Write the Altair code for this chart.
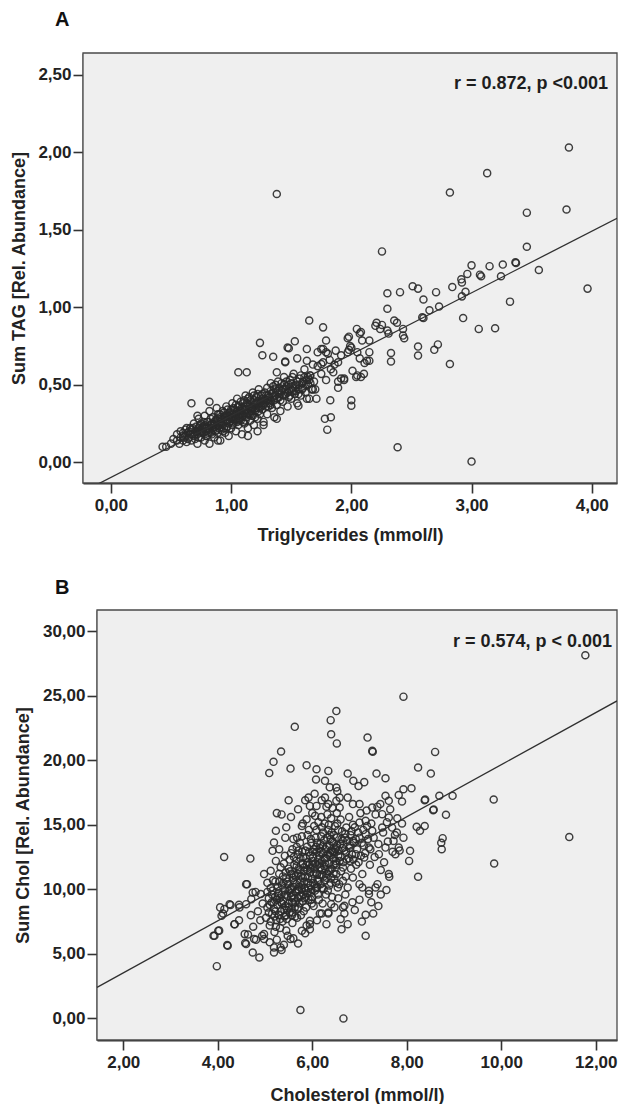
import altair as alt
import pandas as pd

FONT = "Liberation Sans"

# ---------------- Panel A : Triglycerides vs Sum TAG ----------------
tag_cluster = [
    (0.43,0.10),(0.46,0.10),(0.50,0.12),(0.52,0.15),(0.55,0.14),(0.55,0.18),(0.57,0.12),(0.58,0.16),(0.60,0.19),(0.60,0.14),
    (0.62,0.17),(0.62,0.21),(0.63,0.13),(0.64,0.19),(0.65,0.16),(0.66,0.22),(0.67,0.14),(0.68,0.18),(0.69,0.25),(0.70,0.20),
    (0.70,0.15),(0.71,0.23),(0.72,0.12),(0.72,0.18),(0.73,0.28),(0.74,0.21),(0.75,0.16),(0.75,0.25),(0.76,0.19),(0.77,0.23),
    (0.78,0.14),(0.78,0.30),(0.79,0.20),(0.80,0.26),(0.80,0.17),(0.81,0.22),(0.82,0.33),(0.82,0.12),(0.83,0.19),(0.84,0.25),
    (0.85,0.29),(0.85,0.21),(0.86,0.16),(0.87,0.23),(0.88,0.27),(0.88,0.35),(0.89,0.19),(0.90,0.31),(0.90,0.24),(0.91,0.14),
    (0.92,0.21),(0.92,0.28),(0.93,0.33),(0.94,0.25),(0.95,0.19),(0.95,0.30),(0.96,0.36),(0.97,0.23),(0.97,0.27),(0.98,0.17),
    (0.99,0.32),(1.00,0.28),(1.00,0.22),(1.01,0.38),(1.02,0.25),(1.02,0.31),(1.03,0.34),(1.04,0.20),(1.04,0.28),(1.05,0.41),
    (1.06,0.30),(1.06,0.24),(1.07,0.36),(1.08,0.27),(1.08,0.33),(1.09,0.18),(1.10,0.30),(1.10,0.38),(1.11,0.25),(1.12,0.34),
    (1.12,0.43),(1.13,0.29),(1.14,0.37),(1.14,0.22),(1.15,0.32),(1.16,0.40),(1.16,0.27),(1.17,0.35),(1.18,0.45),(1.18,0.30),
    (1.19,0.24),(1.20,0.38),(1.20,0.33),(1.21,0.42),(1.22,0.28),(1.23,0.36),(1.23,0.47),(1.24,0.31),(1.25,0.39),(1.26,0.34),
    (1.26,0.44),(1.27,0.26),(1.28,0.41),(1.29,0.36),(1.30,0.48),(1.30,0.31),(1.31,0.43),(1.32,0.38),(1.33,0.51),(1.34,0.35),
    (1.35,0.45),(1.36,0.40),(1.36,0.29),(1.37,0.47),(1.38,0.37),(1.39,0.52),(1.40,0.42),(1.41,0.33),(1.42,0.46),(1.43,0.39),
    (1.44,0.55),(1.45,0.44),(1.46,0.49),(1.47,0.36),(1.48,0.46),(1.49,0.53),(1.50,0.41),(1.51,0.48),(1.52,0.57),(1.53,0.44),
    (1.54,0.50),(1.55,0.38),(1.56,0.47),(1.57,0.54),(1.58,0.43),(1.59,0.51),(1.60,0.48),(1.61,0.60),(1.62,0.45),(1.63,0.53),
    (1.64,0.50),(1.65,0.41),(1.66,0.56),(1.67,0.47),(1.68,0.63),(1.69,0.52),
]
tag_core = [
    (0.65,0.20),(0.68,0.22),(0.72,0.20),(0.74,0.24),(0.77,0.19),(0.80,0.22),(0.83,0.24),(0.86,0.26),(0.89,0.28),(0.91,0.26),
    (0.94,0.29),(0.96,0.27),(0.98,0.30),(1.01,0.29),(1.03,0.27),(1.05,0.33),(1.07,0.31),(1.09,0.35),(1.11,0.32),(1.13,0.34),
    (1.15,0.36),(1.17,0.33),(1.19,0.37),(1.21,0.35),(1.24,0.38),(1.27,0.40),(1.29,0.39),(1.32,0.42),(1.34,0.44),(1.37,0.43),
    (1.40,0.45),(1.43,0.47),(1.47,0.45),(1.50,0.47),(1.53,0.49),(1.57,0.50),(1.60,0.52),
    (0.58,0.20),(0.61,0.16),(0.63,0.22),(0.66,0.18),(0.69,0.17),(0.71,0.20),(0.73,0.16),(0.74,0.19),(0.76,0.22),(0.78,0.24),
    (0.79,0.17),(0.81,0.26),(0.82,0.21),(0.84,0.18),(0.85,0.24),(0.87,0.27),(0.87,0.20),(0.89,0.31),(0.90,0.22),(0.91,0.29),
    (0.93,0.24),(0.93,0.20),(0.94,0.32),(0.96,0.22),(0.97,0.31),(0.99,0.26),(1.00,0.34),(1.01,0.24),(1.02,0.35),(1.03,0.30),
    (1.05,0.26),(1.06,0.36),(1.07,0.28),(1.08,0.39),(1.09,0.29),(1.10,0.34),(1.11,0.40),(1.12,0.27),(1.13,0.38),(1.14,0.32),
    (1.15,0.42),(1.16,0.31),(1.17,0.39),(1.18,0.35),(1.19,0.43),(1.20,0.29),(1.21,0.38),(1.22,0.44),(1.23,0.33),(1.25,0.36),
    (1.25,0.43),(1.27,0.37),(1.28,0.45),(1.30,0.40),(1.31,0.36),(1.33,0.46),(1.33,0.40),(1.35,0.42),(1.37,0.50),(1.38,0.41),
    (1.40,0.48),(1.41,0.44),(1.42,0.51),(1.44,0.43),(1.46,0.52),(1.48,0.50),(1.49,0.43),(1.51,0.55),(1.52,0.46),(1.55,0.52),
    (1.56,0.44),(1.58,0.56),(1.62,0.50),(1.64,0.55),(1.66,0.51),
]
tag_band = [
    (0.60,0.17),(0.64,0.15),(0.67,0.21),(0.70,0.18),(0.73,0.22),(0.75,0.20),(0.77,0.26),(0.79,0.23),(0.81,0.19),(0.83,0.28),
    (0.84,0.22),(0.86,0.24),(0.88,0.21),(0.89,0.25),(0.91,0.31),(0.92,0.25),(0.94,0.22),(0.95,0.27),(0.97,0.34),(0.98,0.25),
    (0.99,0.29),(1.01,0.32),(1.02,0.28),(1.04,0.31),(1.04,0.37),(1.06,0.27),(1.07,0.33),(1.09,0.31),(1.10,0.26),(1.11,0.36),
    (1.13,0.31),(1.14,0.41),(1.16,0.35),(1.17,0.30),(1.19,0.40),(1.20,0.35),(1.22,0.39),(1.24,0.35),(1.26,0.41),(1.28,0.38),
    (1.29,0.43),(1.31,0.40),(1.33,0.37),(1.35,0.49),(1.36,0.43),(1.39,0.46),(1.41,0.40),(1.44,0.50),(1.45,0.47),(1.48,0.42),
    (1.50,0.51),(1.54,0.46),(1.59,0.47),(1.61,0.55),(1.65,0.53),
]
tag_middle = [
    (0.67,0.38),(0.82,0.39),(0.72,0.30),(0.89,0.14),(1.06,0.58),(1.13,0.58),(1.14,0.17),(1.22,0.20),(1.27,0.24),(1.24,0.77),
    (1.26,0.69),(1.35,0.68),(1.38,0.58),(1.45,0.65),(1.47,0.74),(1.38,0.28),(1.78,0.28),(1.83,0.29),(1.80,0.21),(1.825,0.40),
    (2.00,0.40),(2.00,0.365),(1.53,0.78),(1.48,0.735),(1.63,0.73),(1.45,0.645),(1.55,0.67),(1.63,0.655),(1.72,0.71),(1.75,0.634),
    (1.87,0.72),(1.98,0.81),(1.99,0.75),(1.98,0.725),(2.07,0.83),(2.09,0.785),(2.15,0.71),(2.13,0.655),(2.07,0.67),(2.105,0.57),
    (2.08,0.55),(2.01,0.59),(1.915,0.54),(1.85,0.58),(1.79,0.53),(1.71,0.41),(1.63,0.41),(1.56,0.365),(1.68,0.47),(1.89,0.48),
    (1.94,0.53),(2.04,0.55),(2.11,0.64),(1.65,0.914),(1.765,0.87),(1.79,0.785),(1.79,0.71),(1.765,0.73),(1.75,0.73),(1.805,0.70),
    (1.765,0.645),(1.82,0.66),(1.83,0.60),(1.89,0.645),(1.915,0.69),(1.94,0.54),(1.70,0.47),(1.655,0.56),(2.046,0.86),(2.08,0.84),
    (2.15,0.785),(2.15,0.655),(2.05,0.71),(1.97,0.71),(2.00,0.74),(1.97,0.80),(2.05,0.56),(1.89,0.52),(1.75,0.57),(1.72,0.62),
    (1.86,0.63),
]
tag_upper = [
    (2.20,0.88),(2.21,0.90),(2.24,0.86),(2.255,0.886),(2.30,0.85),(2.31,0.83),(2.357,0.914),(2.38,0.90),(2.43,0.86),(2.44,0.80),
    (2.43,0.817),(2.30,1.09),(2.405,1.097),(2.51,1.135),(2.555,1.12),(2.60,1.05),(2.705,1.097),(2.30,0.99),(2.84,1.13),(2.92,1.16),
    (2.59,0.935),(2.65,0.98),(2.73,1.004),(2.60,0.93),(2.93,0.93),(3.06,0.86),(3.196,0.864),(3.32,1.036),(3.965,1.12),(2.555,0.746),
    (2.555,0.688),(2.69,0.725),(2.72,0.76),(2.33,0.705),(2.33,0.65),(2.82,0.634),(3.00,1.27),(2.965,1.215),(2.915,1.18),(2.95,1.10),
    (2.92,1.07),(3.07,1.21),(3.08,1.20),(3.15,1.265),(3.26,1.275),(3.365,1.29),(3.37,1.285),(3.245,1.20),(3.56,1.24),(3.46,1.39),
    (3.46,1.61),(3.79,1.63),(3.81,2.03),(3.13,1.865),(2.82,1.74),(1.38,1.73),(2.255,1.36),(2.385,0.097),(3.00,0.004),
]

# ---------------- Panel B : Cholesterol vs Sum Chol ----------------
chol_core = [
    (5.02,7.8),(5.05,8.6),(5.08,9.3),(5.10,7.2),(5.12,10.1),(5.15,8.1),(5.18,9.0),(5.20,6.7),(5.22,10.6),(5.24,7.6),
    (5.26,8.8),(5.28,9.7),(5.30,11.2),(5.32,7.0),(5.34,8.3),(5.36,10.3),(5.38,9.1),(5.40,12.0),(5.41,7.9),(5.43,8.7),
    (5.45,10.9),(5.47,9.5),(5.48,6.4),(5.50,11.6),(5.52,8.2),(5.53,10.0),(5.55,12.8),(5.57,9.0),(5.58,7.4),(5.60,10.7),
    (5.62,11.9),(5.63,8.6),(5.65,9.8),(5.67,13.3),(5.68,7.8),(5.70,11.2),(5.72,10.2),(5.73,8.9),(5.75,12.4),(5.77,9.5),
    (5.78,14.1),(5.80,10.9),(5.82,8.3),(5.83,11.7),(5.85,13.0),(5.87,9.9),(5.88,7.2),(5.90,12.1),(5.92,10.5),(5.93,14.6),
    (5.95,11.3),(5.97,9.2),(5.98,13.6),(6.00,10.8),(6.02,12.5),(6.03,8.7),(6.05,11.6),(6.07,14.0),(6.08,10.1),(6.10,12.9),
    (6.12,9.6),(6.13,15.2),(6.15,11.1),(6.17,13.5),(6.18,10.4),(6.20,12.2),(6.22,8.9),(6.23,14.4),(6.25,11.8),(6.27,10.7),
    (6.28,13.1),(6.30,12.4),(6.32,15.8),(6.33,9.9),(6.35,11.4),(6.37,14.2),(6.38,12.8),(6.40,10.9),(6.42,13.7),(6.43,16.3),
    (6.45,11.9),(6.47,12.9),(6.48,14.9),(6.50,10.5),(6.52,13.4),
    (5.25,9.2),(5.35,9.6),(5.45,8.0),(5.55,9.4),(5.60,10.2),(5.65,11.0),(5.70,9.3),(5.75,10.6),(5.80,12.0),(5.85,11.0),
    (5.90,9.7),(5.95,12.6),(6.00,11.9),(6.05,10.4),(6.10,11.2),(6.15,12.6),(6.20,11.5),(6.25,13.8),(6.30,10.9),(6.35,12.0),
    (6.40,13.0),(6.45,11.2),(6.50,12.2),(5.50,9.9),(5.60,8.9),(5.70,12.7),(5.80,9.1),(5.90,11.5),(6.00,9.4),(6.10,13.6),
    (6.20,14.8),(6.30,16.4),(6.40,15.5),(5.15,9.6),(5.05,10.5),(4.95,8.9),(4.90,7.6),(4.85,8.3),(4.80,9.8),(4.75,7.1),
    (4.70,8.0),
]
chol_dense = [
    (5.05,9.8),(5.08,8.2),(5.12,7.5),(5.14,9.0),(5.17,10.7),(5.19,8.5),(5.21,9.4),(5.23,7.1),(5.27,10.2),(5.29,8.0),
    (5.31,9.3),(5.33,11.7),(5.36,8.9),(5.37,7.5),(5.39,10.5),(5.42,9.9),(5.44,11.3),(5.46,7.7),(5.49,10.4),(5.51,8.6),
    (5.52,12.3),(5.54,9.7),(5.56,11.2),(5.58,8.2),(5.59,10.9),(5.61,12.5),(5.62,9.3),(5.64,7.9),(5.66,10.4),(5.67,11.8),
    (5.69,8.5),(5.71,13.0),(5.72,9.9),(5.74,11.5),(5.76,8.0),(5.77,10.3),(5.79,12.9),(5.81,9.6),(5.82,11.4),(5.84,10.1),
    (5.86,12.4),(5.87,8.6),(5.89,13.3),(5.91,10.9),(5.92,9.2),(5.94,11.9),(5.96,10.3),(5.97,13.9),(5.99,8.9),(6.01,12.2),
    (6.02,10.5),(6.04,13.1),(6.06,9.9),(6.07,11.3),(6.09,14.6),(6.11,10.7),(6.12,12.3),(6.14,9.2),(6.16,13.2),(6.17,11.7),
    (6.19,14.1),(6.21,10.1),(6.22,12.8),(6.24,11.0),(6.26,15.1),(6.27,12.0),(6.29,9.6),(6.31,13.3),(6.32,11.2),(6.34,14.6),
    (6.36,10.3),(6.37,12.6),(6.39,13.9),(6.41,11.6),(6.42,9.4),(6.44,12.4),(6.46,14.2),(6.47,10.8),(6.49,13.1),(6.51,11.9),
    (6.53,15.1),(6.55,12.6),(6.57,10.4),(6.59,13.5),(6.61,11.4),(6.63,14.5),(6.66,12.1),(6.68,13.0),(6.71,11.0),(6.74,13.8),
    (6.77,12.4),(6.81,14.2),(6.84,12.7),(6.88,13.6),(6.93,11.9),(6.97,14.4),(7.03,12.6),(7.09,13.4),(7.16,14.9),(7.23,13.1),
]
chol_heart = [
    (5.10,8.8),(5.16,9.9),(5.22,8.3),(5.27,9.5),(5.30,10.6),(5.34,9.0),(5.38,11.0),(5.41,8.4),(5.44,9.6),(5.47,10.6),
    (5.50,8.9),(5.53,11.4),(5.56,10.1),(5.58,9.5),(5.61,11.1),(5.64,9.0),(5.66,12.2),(5.69,10.0),(5.71,11.6),(5.73,9.5),
    (5.76,11.0),(5.78,10.0),(5.81,12.5),(5.83,10.6),(5.86,9.4),(5.88,11.9),(5.91,10.1),(5.93,12.9),(5.96,11.6),(5.98,10.0),
    (6.01,12.9),(6.03,11.2),(6.06,12.0),(6.08,13.3),(6.11,11.9),(6.13,10.6),(6.16,12.0),(6.18,12.9),(6.21,11.1),(6.23,13.4),
    (6.26,12.4),(6.28,11.6),(6.31,14.0),(6.33,12.7),(6.36,13.4),(6.38,11.5),(6.41,14.4),(6.44,12.9),(6.46,13.6),(6.49,12.0),
    (6.52,14.0),(6.56,13.0),(6.60,12.5),(6.64,13.2),(6.69,14.0),(6.73,12.3),(6.79,13.2),(6.83,14.5),(6.87,12.3),(6.92,13.9),
    (5.20,7.9),(5.32,7.7),(5.46,8.4),(5.57,8.0),(5.71,8.6),(5.84,9.3),(5.97,9.8),(6.10,10.2),(6.24,10.0),(6.39,10.5),
    (5.42,12.6),(5.58,13.1),(5.74,13.6),(5.90,14.2),(6.04,14.9),(6.19,15.6),(6.35,15.0),(6.52,15.9),
]
chol_right = [
    (6.55,14.6),(6.60,15.4),(6.62,13.9),(6.70,14.3),(6.72,12.9),(6.78,15.6),(6.80,13.4),(6.82,11.6),(6.90,14.8),(6.95,13.1),
    (6.98,12.1),(7.02,15.9),(7.05,13.6),(7.08,14.6),(7.12,12.8),(7.15,16.1),(7.18,13.9),(7.22,11.9),(7.25,15.1),(7.30,14.0),
    (7.32,12.5),(7.38,16.4),(7.40,13.5),(7.45,11.5),(7.50,14.4),(7.52,12.1),(7.58,15.2),(7.60,13.7),(7.65,16.2),(7.70,12.9),
    (7.75,14.2),(7.80,15.5),(7.85,13.0),(7.90,16.8),
    (6.51,17.88),(6.58,17.1),(6.75,17.1),(6.86,16.6),(7.00,16.6),(6.58,16.33),(7.13,15.3),(7.00,15.17),(6.86,15.0),(6.72,14.78),
    (7.48,15.82),(7.62,15.56),(7.69,14.78),(7.48,14.78),(7.27,14.53),(7.13,14.27),(7.00,14.0),(6.86,13.75),(6.65,13.75),(6.51,13.23),
    (7.72,13.75),(7.83,13.23),(7.76,12.72),(7.55,13.23),(7.41,12.72),(7.20,13.23),(7.10,12.46),(6.92,12.72),(6.79,12.2),(6.58,12.2),
    (6.65,11.69),(7.06,11.18),(6.86,10.91),(6.65,10.66),(6.51,11.18),(6.54,10.14),(6.75,10.14),(7.00,10.4),(7.20,9.63),(7.34,10.14),
    (6.68,8.72),(6.68,8.13),(6.47,8.6),
    (6.55,9.3),(6.60,7.7),(6.70,9.6),(6.75,7.3),(6.85,9.0),(6.90,8.4),(7.00,9.2),(7.05,7.5),(7.25,9.0),(7.40,8.7),
    (7.45,9.6),(6.62,6.9),
]
chol_left = [
    (5.10,5.9),(5.25,6.1),(5.40,5.7),(5.45,6.8),(5.60,6.2),(5.70,5.8),(5.85,6.6),(5.95,6.9),(6.10,7.6),(6.30,7.3),
    (5.35,5.3),(5.30,13.1),(5.45,14.8),(5.55,15.6),(5.60,13.9),(5.70,16.2),(5.80,15.1),(5.85,16.9),(6.00,15.9),(6.05,17.4),
    (6.20,16.9),(5.50,16.9),(5.25,15.9),
    (4.60,10.4),(4.74,9.75),(4.60,8.85),(4.46,8.6),(4.36,7.3),(4.05,8.6),(4.11,8.13),(4.25,8.85),(4.01,6.79),(3.91,6.4),
    (4.21,5.63),(4.57,6.53),(4.60,5.76),(4.77,6.15),(4.74,5.11),(4.88,4.72),(4.98,6.53),(4.98,6.15),(5.19,5.5),(5.19,5.11),
    (5.33,5.5),(5.54,6.15),(5.78,6.79),(5.95,7.3),(6.16,8.13),(6.34,8.13),(4.98,11.18),(5.12,11.43),(5.23,12.2),(5.16,12.98),
    (5.19,13.62),(5.43,14.0),(5.23,14.53),(5.68,14.0),(5.78,14.9),(5.88,15.43),(5.92,17.1),(6.06,15.69),(6.27,17.1),(6.34,16.6),
    (6.51,16.85),(6.53,17.6),(6.37,17.9),(5.95,16.46),(6.09,16.46),
    (4.08,7.95),(4.14,8.47),(4.27,8.78),(4.35,7.3),(4.45,7.6),(4.45,8.8),(4.62,10.4),(4.71,9.24),(4.91,9.63),(4.58,5.84),
    (4.64,6.5),(4.81,6.1),(4.94,6.4),(4.20,5.68),(4.03,6.8),(3.93,6.4),
]
chol_outer = [
    (11.78,28.13),(7.93,24.92),(9.84,16.95),(9.85,12.0),(11.44,14.05),(6.66,0.0),(5.75,0.65),(3.98,4.05),(4.135,12.5),(4.69,12.38),
    (5.63,22.58),(5.34,20.67),(5.18,19.87),(5.09,19.0),(5.54,19.35),(6.51,23.8),(6.39,23.1),(6.40,22.0),(6.52,21.3),(5.88,19.6),
    (6.09,19.3),(6.34,19.17),(6.08,18.5),(6.27,18.4),(5.35,15.8),(7.17,21.75),(7.27,20.72),(7.28,20.65),(8.60,20.64),(8.24,19.43),
    (8.51,18.96),(6.75,18.96),(7.36,18.96),(7.55,18.6),(6.87,18.4),(6.98,18.0),(7.10,18.3),(8.10,17.83),(7.93,17.75),(7.83,17.3),
    (8.38,16.9),(8.39,16.95),(8.69,17.24),(8.97,17.24),(8.56,16.13),(8.57,16.18),(8.83,15.77),(7.55,17.24),(7.62,16.85),(7.44,16.6),
    (7.27,16.33),(7.34,15.8),(7.90,15.1),(8.21,14.84),(8.28,14.53),(8.38,14.9),(7.79,14.4),(7.93,14.0),(8.76,13.96),(8.74,13.1),
    (8.07,12.98),(8.05,12.2),(8.24,10.97),(7.62,11.18),(7.63,10.97),(7.57,9.94),(7.13,8.03),(7.29,8.13),(7.13,6.4),(7.38,10.4),
    (7.20,9.88),(7.06,10.14),(6.40,8.85),(6.65,8.6),(6.20,8.13),(5.95,7.56),(6.34,8.2),(8.73,13.6),
]

# regression fits: (slope, intercept)
fit_tag = (0.397, -0.098)
fit_chol = (2.016, -0.51)

notes = ["r = 0.872, p <0.001", "r = 0.574, p < 0.001"]
panel_letters = ["A", "B"]
x_titles = ["Triglycerides (mmol/l)", "Cholesterol (mmol/l)"]
y_titles = ["Sum TAG [Rel. Abundance]", "Sum Chol [Rel. Abundance]"]
x_ticks = [[0, 1, 2, 3, 4], [2, 4, 6, 8, 10, 12]]
y_ticks = [[0, 0.5, 1, 1.5, 2, 2.5], [0, 5, 10, 15, 20, 25, 30]]
x_domains = [[-0.232, 4.21], [1.444, 12.45]]
y_domains = [[-0.134, 2.64], [-1.67, 31.63]]

LABEL_EXPR = "replace(format(datum.value, '.2f'), '.', ',')"
INK = "#2a2a2a"
BG = "#efefef"
FRAME = "#4a4a4a"
W = 534


def panel(points, fit, xdom, ydom, xt, yt, xtitle, ytitle, letter, note, H,
          inset, yext, ytitlepad, xtitlepad, letter_y, note_x, note_dy):
    df = pd.DataFrame(points, columns=["x", "y"])
    xs = alt.Scale(domain=xdom, nice=False, zero=False, range=[inset, W])
    ys = alt.Scale(domain=ydom, nice=False, zero=False)
    xaxis = alt.Axis(values=xt, labelExpr=LABEL_EXPR, title=xtitle, tickSize=10,
                     labelPadding=4.5, titlePadding=xtitlepad, minExtent=31, maxExtent=31,
                     labelFlush=False)
    yaxis = alt.Axis(values=yt, labelExpr=LABEL_EXPR, title=ytitle, tickSize=10,
                     labelPadding=2, titlePadding=ytitlepad, minExtent=yext, maxExtent=yext,
                     offset=-inset)
    frame = alt.Chart(pd.DataFrame({"k": [0]})).mark_rect(
        fill=BG, stroke=FRAME, strokeWidth=1.3
    ).encode(x=alt.value(inset), x2=alt.value(W), y=alt.value(0), y2=alt.value(H))
    pts = alt.Chart(df).mark_point(shape="circle", filled=False, size=50, strokeWidth=1.45,
                                   color=INK, opacity=0.9).encode(
        x=alt.X("x:Q", scale=xs, axis=xaxis),
        y=alt.Y("y:Q", scale=ys, axis=yaxis),
    )
    slope, icpt = fit
    line_df = pd.DataFrame({"x": xdom, "y": [slope * v + icpt for v in xdom]})
    line = alt.Chart(line_df).mark_line(color="#303030", strokeWidth=1.3, clip=True).encode(
        x=alt.X("x:Q", scale=xs), y=alt.Y("y:Q", scale=ys))
    txt = alt.Chart(pd.DataFrame({"t": [note]})).mark_text(
        align="right", baseline="middle", font=FONT, fontSize=18, fontWeight="bold", color="#1e1e1e"
    ).encode(text="t:N", x=alt.value(note_x), y=alt.value(note_dy))
    lab = alt.Chart(pd.DataFrame({"t": [letter]})).mark_text(
        align="left", baseline="alphabetic", font=FONT, fontSize=20, fontWeight="bold", color="#111"
    ).encode(text="t:N", x=alt.value(-28), y=alt.value(letter_y))
    return alt.layer(frame, pts, line, txt, lab).properties(
        width=W, height=H,
        view=alt.ViewBackground(fill="transparent", stroke="transparent"),
    )


pa = panel(tag_cluster + tag_core + tag_band + tag_middle + tag_upper, fit_tag,
           x_domains[0], y_domains[0], x_ticks[0], y_ticks[0], x_titles[0], y_titles[0],
           panel_letters[0], notes[0], 430, 0, 47, 8, 12, -27.3, 525, 30.5)
pb = panel(chol_core + chol_dense + chol_heart + chol_right + chol_left + chol_outer, fit_chol,
           x_domains[1], y_domains[1], x_ticks[1], y_ticks[1], x_titles[1], y_titles[1],
           panel_letters[1], notes[1], 430, 14, 57, 7.5, 15, -15.7, 529, 32)

chart = alt.vconcat(pa, pb, spacing=32).properties(
    padding={"left": 1, "top": 1, "right": 0, "bottom": 0}
).configure_view(
    fill="transparent", stroke="transparent"
).configure_axis(
    grid=False, domainColor="#333", domainWidth=1.8, tickColor="#333", tickWidth=1.6,
    labelFont=FONT, labelFontSize=17, labelFontWeight="bold", labelColor="#222",
    titleFont=FONT, titleFontSize=18, titleFontWeight="bold", titleColor="#222",
    zindex=1,
)

chart.save("out.html", embed_options={"renderer": "svg", "actions": False})
